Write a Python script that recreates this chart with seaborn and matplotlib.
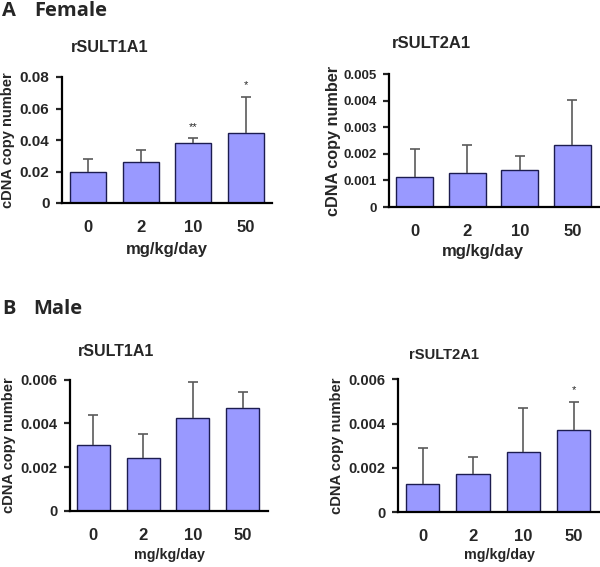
import seaborn as sns
import matplotlib.pyplot as plt
import pandas as pd
import numpy as np

# dose groups
doses = ['0', '2', '10', '50']

# Female rSULT1A1
f1_mean = [0.0198, 0.0258, 0.0383, 0.0444]
f1_top = [0.0281, 0.0337, 0.0411, 0.0675]
f1_stars = ['', '', '**', '*']

# Female rSULT2A1
f2_mean = [0.00112, 0.00129, 0.00138, 0.00233]
f2_top = [0.00219, 0.00234, 0.00192, 0.00402]
f2_stars = ['', '', '', '']

# Male rSULT1A1
m1_mean = [0.00299, 0.00244, 0.00426, 0.00469]
m1_top = [0.00436, 0.00350, 0.00588, 0.00543]
m1_stars = ['', '', '', '']

# Male rSULT2A1
m2_mean = [0.00125, 0.00170, 0.00271, 0.00369]
m2_top = [0.00291, 0.00250, 0.00469, 0.00499]
m2_stars = ['', '', '', '*']

sns.set_style('ticks')
plt.rcParams['font.family'] = ['Liberation Sans', 'DejaVu Sans']
plt.rcParams['font.weight'] = 'bold'

BAR = '#9999ff'
EDGE = '#1c1c50'


def draw_panel(fig, rect, mean, top, stars, ymax, yticks, ylabels, xlim,
               title, title_xy, ylab_x, xlab_xy, width, fs):
    # fs = (ytick, xtick, ylabel, xlabel, title)
    ax = fig.add_axes(rect)
    df = pd.DataFrame({'dose': doses, 'value': mean})
    sns.barplot(data=df, x='dose', y='value', order=doses, color=BAR,
                saturation=1, width=width, edgecolor=EDGE, linewidth=1.0,
                errorbar=None, ax=ax)
    pos = np.arange(len(doses))
    upper = np.array(top) - np.array(mean)
    ax.errorbar(pos, mean, yerr=[np.zeros(len(doses)), upper], fmt='none',
                ecolor='#5a5a5a', elinewidth=1.2, capsize=0, zorder=1)
    ax.plot(pos, top, linestyle='none', marker='_', markersize=7,
            markeredgewidth=1.2, color='#5a5a5a', zorder=1)
    for p, t, s in zip(pos, top, stars):
        if s:
            ax.annotate(s, (p, t), xytext=(0, 8), textcoords='offset points',
                        ha='center', va='center', fontsize=8, fontweight='normal')
    ax.set_ylim(0, ymax)
    ax.set_xlim(*xlim)
    ax.set_yticks(yticks)
    ax.set_yticklabels(ylabels)
    sns.despine(ax=ax)
    for sp in ['left', 'bottom']:
        ax.spines[sp].set_linewidth(1.6)
        ax.spines[sp].set_color('black')
    ax.tick_params(axis='y', length=4, width=1.6, pad=5, labelsize=fs[0])
    ax.tick_params(axis='x', length=0, pad=12, labelsize=fs[1])
    ax.set_ylabel('cDNA copy number', fontsize=fs[2], fontweight='bold')
    ax.yaxis.set_label_coords(ylab_x, 0.5)
    ax.set_xlabel('mg/kg/day', fontsize=fs[3], fontweight='bold')
    ax.xaxis.set_label_coords(*xlab_xy)
    fig.text(title_xy[0] / 600, 1 - title_xy[1] / 567, title, ha='center',
             va='center', fontsize=fs[4], fontweight='bold')
    return ax


fig = plt.figure(figsize=(6, 5.67), dpi=100)

draw_panel(fig, [62 / 600, 1 - 203 / 567, 210 / 600, 126 / 567],
           f1_mean, f1_top, f1_stars, 0.08,
           [0, 0.02, 0.04, 0.06, 0.08], ['0', '0.02', '0.04', '0.06', '0.08'],
           (-0.5, 3.5), 'rSULT1A1', (110, 47), -0.222, (0.5, -0.31), 0.68,
           (11, 12, 10.5, 12, 11.7))

draw_panel(fig, [389 / 600, 1 - 207 / 567, 215 / 600, 133 / 567],
           f2_mean, f2_top, f2_stars, 0.005,
           [0, 0.001, 0.002, 0.003, 0.004, 0.005],
           ['0', '0.001', '0.002', '0.003', '0.004', '0.005'],
           (-0.49, 3.6), 'rSULT2A1', (431, 43), -0.225, (0.435, -0.28), 0.7,
           (9.5, 12, 11.7, 12, 12))

draw_panel(fig, [70 / 600, 1 - 511 / 567, 198 / 600, 131.5 / 567],
           m1_mean, m1_top, m1_stars, 0.006,
           [0, 0.002, 0.004, 0.006], ['0', '0.002', '0.004', '0.006'],
           (-0.47, 3.51), 'rSULT1A1', (116, 351), -0.275, (0.5, -0.28), 0.66,
           (10.5, 12, 10.5, 10.3, 11.5))

draw_panel(fig, [398 / 600, 1 - 512 / 567, 206 / 600, 132.7 / 567],
           m2_mean, m2_top, m2_stars, 0.006,
           [0, 0.002, 0.004, 0.006], ['0', '0.002', '0.004', '0.006'],
           (-0.49, 3.6), 'rSULT2A1', (444, 355), -0.262, (0.49, -0.27), 0.66,
           (10.5, 12, 10.6, 10.3, 10.6))

# panel headings
head_font = ['Open Sans', 'DejaVu Sans']
fig.text(2 / 600, 1 - 11 / 567, 'A', fontsize=14.5, fontweight='bold',
         family=head_font, va='center', ha='left')
fig.text(34 / 600, 1 - 11 / 567, 'Female', fontsize=14.5, fontweight='bold',
         family=head_font, va='center', ha='left')
fig.text(2 / 600, 1 - 309 / 567, 'B', fontsize=14.5, fontweight='bold',
         family=head_font, va='center', ha='left')
fig.text(33 / 600, 1 - 309 / 567, 'Male', fontsize=14.5, fontweight='bold',
         family=head_font, va='center', ha='left')

fig.savefig('out.png', dpi=100)
